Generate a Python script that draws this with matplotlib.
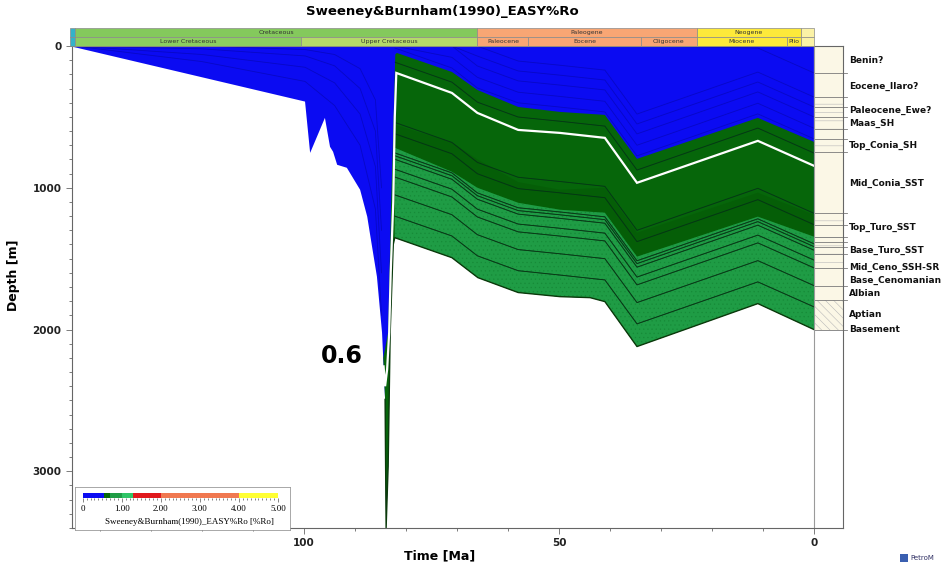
import numpy as np
import matplotlib
matplotlib.use("Agg")
import matplotlib.pyplot as plt
from matplotlib.patches import Rectangle
from matplotlib.ticker import MultipleLocator

# geologic time scale (Ma)
PERIOD_NAMES = ["", "Cretaceous", "Paleogene", "Neogene", ""]
PERIOD_BOUNDS = [150.0, 145.0, 66.0, 23.0, 2.58, 0.0]
PERIOD_COLORS = ["#34b2c9", "#84c95c", "#f8a674", "#fde93a", "#fbf2a6"]
EPOCH_NAMES = ["", "Lower Cretaceous", "Upper Cretaceous", "Paleocene", "Eocene",
               "Oligocene", "Miocene", "Plio", ""]
EPOCH_BOUNDS = [150.0, 145.0, 100.5, 66.0, 56.0, 33.9, 23.0, 5.33, 2.58, 0.0]
EPOCH_COLORS = ["#34b2c9", "#8ccd60", "#b5d96a", "#f8a674", "#f8a674", "#f8a674",
                "#fde93a", "#fde93a", "#fbf2a6"]

# burial path of the basement (bottom of the section)
BASE_TIME = [146.0, 99.8, 98.8, 95.9, 94.9, 94.3, 93.5, 91.6, 89.0, 87.6, 87.1, 85.7,
             84.7, 84.1, 83.9, 83.5, 83.1, 82.5, 82.2, 71.0, 65.9, 58.0, 49.8, 43.9,
             41.0, 34.7, 11.0, 0.0]
BASE_DEPTH = [0, 392, 754, 507, 711, 746, 838, 859, 1014, 1204, 1317, 1627,
              2021, 2493, 3400, 2965, 2021, 1400, 1352, 1493, 1634, 1739, 1768, 1775,
              1803, 2120, 1817, 2000]

# EASY%Ro isolines
RO055_TIME = [0.0, 11.0, 34.7, 41.0, 49.8, 58.0, 66.0, 71.0, 81.8, 82.1, 82.5, 82.9, 83.5, 84.45]
RO055_DEPTH = [676, 507, 796, 486, 465, 430, 310, 183, 49, 60, 600, 1085, 2021, 2200]
RO060_TIME = [0.0, 11.0, 34.7, 41.0, 49.8, 58.0, 66.0, 71.0, 81.9, 82.2, 82.5, 83.0, 83.3,
              83.7, 84.1, 84.4]
RO060_DEPTH = [845, 669, 965, 648, 613, 592, 472, 331, 190, 500, 1100, 1600, 2021,
               2280, 2400, 2260]
RO065_TIME = [0.0, 11.0, 34.7, 41.0, 49.8, 58.0, 66.0, 71.0, 82.1]
RO065_DEPTH = [1190, 1035, 1317, 1000, 1014, 960, 800, 680, 556]
RO070_TIME = [0.0, 11.0, 34.7, 41.0, 49.8, 58.0, 66.0, 71.0, 82.2]
RO070_DEPTH = [1345, 1204, 1486, 1176, 1155, 1106, 1000, 887, 718]

# horizon depths after the spike, one row per horizon
KEY_TIME = [82.2, 71.0, 66.0, 58.0, 50.0, 41.0, 34.7, 11.0, 0.0]
HORIZON_DEPTH = [
    [1200, 1340, 1480, 1585, 1615, 1650, 1960, 1664, 1840],
    [1050, 1190, 1331, 1436, 1465, 1500, 1810, 1514, 1690],
    [924, 1065, 1206, 1311, 1340, 1375, 1685, 1389, 1565],
    [869, 1010, 1151, 1256, 1285, 1320, 1630, 1334, 1510],
    [799, 940, 1081, 1186, 1215, 1250, 1560, 1264, 1440],
    [774, 915, 1056, 1161, 1190, 1225, 1535, 1239, 1415],
    [754, 895, 1036, 1141, 1170, 1205, 1515, 1219, 1395],
    [619, 760, 901, 1006, 1035, 1070, 1380, 1084, 1260],
    [539, 680, 821, 926, 955, 990, 1300, 1004, 1180],
    [114, 255, 396, 501, 530, 565, 875, 579, 755],
    [14, 155, 296, 401, 430, 465, 775, 479, 655],
    [0, 80, 221, 326, 355, 390, 700, 404, 580],
    [0, 0, 141, 246, 275, 310, 620, 324, 500],
    [0, 0, 71, 176, 205, 240, 550, 254, 430],
    [0, 0, 1, 106, 135, 170, 480, 184, 360],
    [0, 0, 0, 0, 0, 0, 0, 14, 190],
]

# early Cretaceous horizons
EARLY_TIME = [145.0, 120.0, 99.8, 94.0, 89.0, 86.0, 84.8]
EARLY_DEPTH = [
    [0, 110, 250, 420, 700, 1150, 1900],
    [0, 60, 150, 260, 480, 850, 1600],
    [0, 20, 70, 140, 300, 600, 1300],
    [0, 0, 25, 60, 160, 380, 1000],
]

# present-day layer column
LAYER_TOPS = [0, 190, 360, 430, 500, 585, 655, 750, 1180, 1260, 1345, 1380, 1415,
              1470, 1565, 1690, 1790, 2000]
LAYER_HATCH = ["", "", "--", "--", "--", "", "--", "", "--", "", "--", "--", "--",
               "--", "", "", "\\\\\\\\"]
LAYER_NAMES = ["Benin?", "Eocene_Ilaro?", "Paleocene_Ewe?", "Maas_SH", "Top_Conia_SH",
               "Mid_Conia_SST", "Top_Turo_SST", "Base_Turo_SST", "Mid_Ceno_SSH-SR",
               "Base_Cenomanian", "Albian", "Aptian", "Basement"]
LABEL_DEPTH = [99, 282, 458, 549, 704, 972, 1282, 1444, 1563, 1655, 1746, 1894, 2000]

# EASY%Ro colour scale
RO_BOUNDS = [0.0, 0.55, 0.7, 1.0, 1.3, 2.0, 4.0, 5.0]
RO_COLORS = ["#0b0bf2", "#06660a", "#1f9c45", "#2fc466", "#e0181c", "#f07850", "#ffff33"]
RO_TICKS = [0, 1, 2, 3, 4, 5]
RO_TICK_LABELS = ["0", "1.00", "2.00", "3.00", "4.00", "5.00"]

W, H = 949, 568
T_MIN, T_MAX = -5.7, 145.5
D_MAX = 3400

plt.rcParams["hatch.linewidth"] = 0.4
fig = plt.figure(figsize=(W / 100, H / 100), dpi=100)
ax = fig.add_axes([72 / W, 1 - 528 / H, 771 / W, 482 / H])
ax.set_xlim(T_MAX, T_MIN)
ax.set_ylim(D_MAX, 0)

base_t = np.array(BASE_TIME)
base_d = np.array(BASE_DEPTH, dtype=float)

# immature part: whole section
ax.fill(np.append(base_t, 0.0), np.append(base_d, 0.0), color=RO_COLORS[0], lw=0)

# oil window, upper part
sel = base_t < RO055_TIME[-1]
upper, = ax.fill(np.concatenate([RO055_TIME, base_t[sel]]),
                 np.concatenate([RO055_DEPTH, base_d[sel]]), color=RO_COLORS[1], lw=0)
ax.fill(np.concatenate([RO065_TIME, RO070_TIME[::-1]]),
        np.concatenate([RO065_DEPTH, RO070_DEPTH[::-1]]), color="#055e07", lw=0)

# oil window, lower part
sel = base_t <= RO070_TIME[-1]
lower, = ax.fill(np.concatenate([RO070_TIME, base_t[sel]]),
                 np.concatenate([RO070_DEPTH, base_d[sel]]),
                 facecolor=RO_COLORS[2], edgecolor="#178a38", lw=0, hatch="....")

# horizons: faint in the immature zone, darker inside the oil window
for row in HORIZON_DEPTH:
    ax.plot(KEY_TIME, row, color="#000060", lw=0.6, alpha=0.3)
    for zone in (upper, lower):
        ln, = ax.plot(KEY_TIME, row, color="#062e06", lw=0.6, alpha=0.6)
        ln.set_clip_path(zone)
for row in EARLY_DEPTH:
    ax.plot(EARLY_TIME, row, color="#000060", lw=0.6, alpha=0.3)
sel = base_t <= 84.5
ax.plot(base_t[sel], base_d[sel], color="#0b3a0b", lw=1.0)

# Ro = 0.6 isoline
ax.plot(RO060_TIME, RO060_DEPTH, color="white", lw=1.6, solid_joinstyle="miter")
ax.text(92.5, 2190, "0.6", ha="center", va="center", fontsize=17, fontweight="bold")

# present-day layer column
for i, hatch in enumerate(LAYER_HATCH):
    ax.add_patch(Rectangle((0, LAYER_TOPS[i]), T_MIN, LAYER_TOPS[i + 1] - LAYER_TOPS[i],
                           facecolor="#fbf7e6", edgecolor="#b8b8b8", lw=0, hatch=hatch))
for top in LAYER_TOPS[1:]:
    ax.plot([0, T_MIN - 0.8], [top, top], color="#7a7a7a", lw=0.6, clip_on=False)
ax.axvline(0, color="#9a9a9a", lw=0.8)

for name, depth in zip(LAYER_NAMES, LABEL_DEPTH):
    ax.text(1.0075, depth, name, transform=ax.get_yaxis_transform(), ha="left",
            va="center", fontsize=6.5, fontweight="bold", color="#111111")

# axes styling
for side in ax.spines.values():
    side.set_color("#666666")
    side.set_linewidth(0.8)
ax.set_xticks([100, 50, 0])
ax.set_yticks([0, 1000, 2000, 3000])
ax.xaxis.set_minor_locator(MultipleLocator(10))
ax.yaxis.set_minor_locator(MultipleLocator(100))
ax.tick_params(which="both", direction="out", colors="#666666", labelcolor="#222222",
               labelsize=7.5, width=0.6)
ax.tick_params(which="major", length=4)
ax.tick_params(which="minor", length=2.5)
for lab in ax.get_xticklabels() + ax.get_yticklabels():
    lab.set_fontweight("bold")
ax.set_xlabel("Time [Ma]", fontsize=9, fontweight="bold", labelpad=4)
ax.xaxis.set_label_coords(0.477, -0.045)
ax.set_ylabel("Depth [m]", fontsize=9, fontweight="bold")
ax.yaxis.set_label_coords(-0.067, 0.525)

fig.text(442 / W, 1 - 12 / H, "Sweeney&Burnham(1990)_EASY%Ro", ha="center", va="center",
         fontsize=9.5, fontweight="bold")

# stratigraphic chart on top
st = fig.add_axes([72 / W, 1 - 46 / H, 771 / W, 18 / H], sharex=ax)
st.set_ylim(0, 2)
st.axis("off")
for names, bounds, colors, y0 in [(PERIOD_NAMES, PERIOD_BOUNDS, PERIOD_COLORS, 1),
                                  (EPOCH_NAMES, EPOCH_BOUNDS, EPOCH_COLORS, 0)]:
    for i, name in enumerate(names):
        lo = min(bounds[i], T_MAX + 0.4)
        hi = bounds[i + 1]
        st.add_patch(Rectangle((lo, y0), hi - lo, 1, facecolor=colors[i],
                               edgecolor="#8a8a8a", lw=0.5, clip_on=False))
        if name:
            st.text((lo + hi) / 2, y0 + 0.5, name, ha="center", va="center",
                    fontsize=4.5, color="#333333")

# colour legend
lg = fig.add_axes([75 / W, 1 - 530 / H, 215 / W, 43 / H])
lg.set_xticks([])
lg.set_yticks([])
for side in lg.spines.values():
    side.set_color("#9a9a9a")
    side.set_linewidth(0.6)
lg.text(0.53, 0.19, "Sweeney&Burnham(1990)_EASY%Ro [%Ro]", transform=lg.transAxes,
        ha="center", va="center", fontsize=6.5, family="Liberation Serif")

cb = fig.add_axes([82.7 / W, 1 - 498 / H, 195.3 / W, 5 / H])
for lo, hi, c in zip(RO_BOUNDS[:-1], RO_BOUNDS[1:], RO_COLORS):
    cb.barh(0, hi - lo, left=lo, height=1, color=c, lw=0)
cb.set_xlim(0, 5)
cb.set_ylim(-0.5, 0.5)
cb.set_yticks([])
cb.set_xticks(RO_TICKS)
cb.set_xticklabels(RO_TICK_LABELS, fontsize=6.5, family="Liberation Serif")
cb.xaxis.set_minor_locator(MultipleLocator(0.1))
cb.tick_params(which="both", direction="out", colors="#555555", labelcolor="black",
               width=0.5, pad=2)
cb.tick_params(which="major", length=3)
cb.tick_params(which="minor", length=1.5)
for side in cb.spines.values():
    side.set_visible(False)

# software mark
fig.patches.append(Rectangle((900 / W, 1 - 562 / H), 8 / W, 8 / H, transform=fig.transFigure,
                             facecolor="#3a5fb0", edgecolor="none"))
fig.text(910 / W, 1 - 558 / H, "PetroM", fontsize=5, color="#333366", va="center")

fig.savefig("out.png", dpi=100)
